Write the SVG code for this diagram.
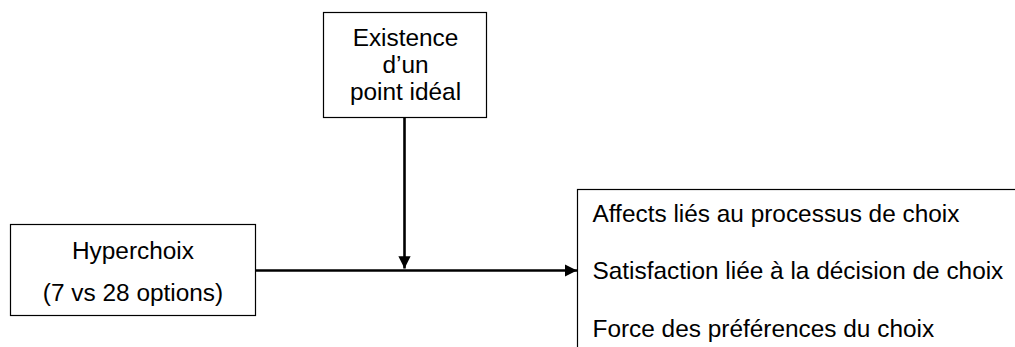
<svg xmlns="http://www.w3.org/2000/svg" width="1015" height="347" viewBox="0 0 1015 347">
<style>
.box{fill:#fff;stroke:#000;stroke-width:1.2}
text{font-family:"Liberation Sans",Arial,sans-serif;font-size:24.4px;fill:#000}
.c{text-anchor:middle}
.conn{stroke:#000;stroke-width:2.6;fill:none}
</style>
<defs>
<marker id="ah" viewBox="0 0 10 10" refX="10" refY="5" markerWidth="4.9" markerHeight="4.7" orient="auto" markerUnits="strokeWidth">
<path d="M0,0 L10,5 L0,10 z" fill="#000"/>
</marker>
</defs>
<g id="node-ideal">
<rect class="box" x="323.5" y="12.5" width="163" height="105"/>
<text class="c" x="405.5" y="45.5">Existence</text>
<text class="c" x="405.5" y="72.5">d’un</text>
<text class="c" x="405.5" y="99.5">point idéal</text>
</g>
<g id="node-hyperchoix">
<rect class="box" x="10.5" y="224.5" width="245" height="91"/>
<text class="c" x="133" y="258.5">Hyperchoix</text>
<text class="c" x="133" y="300.5">(7 vs 28 options)</text>
</g>
<g id="node-outcomes">
<rect class="box" x="577.5" y="189.5" width="450" height="170"/>
<text x="592.5" y="221.5">Affects liés au processus de choix</text>
<text x="592.5" y="279">Satisfaction liée à la décision de choix</text>
<text x="592.5" y="336.5">Force des préférences du choix</text>
</g>
<g id="connectors">
<line class="conn" x1="256" y1="270.5" x2="577" y2="270.5" marker-end="url(#ah)"/>
<line class="conn" x1="404.5" y1="118" x2="404.5" y2="268.5" marker-end="url(#ah)"/>
</g>
</svg>
